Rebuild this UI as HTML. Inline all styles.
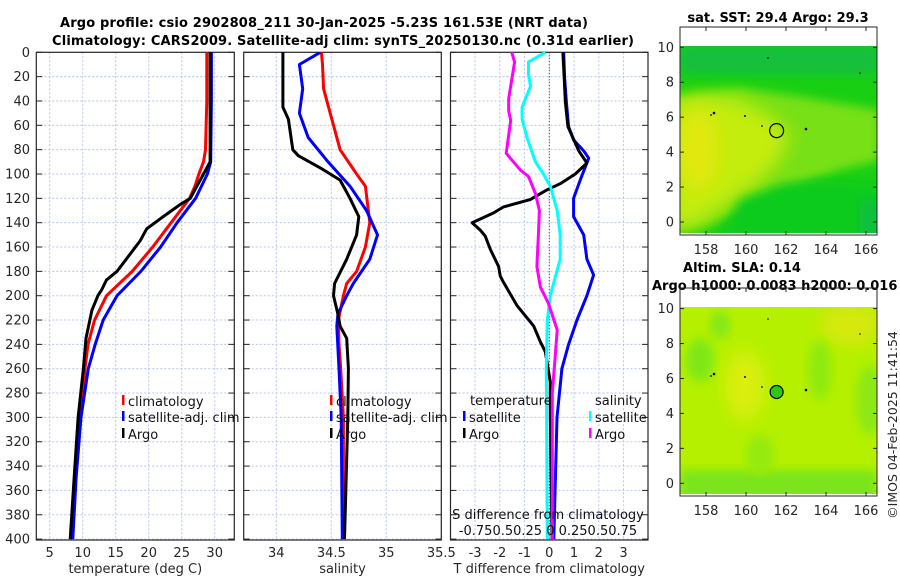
<!DOCTYPE html>
<html><head><meta charset="utf-8"><style>
html,body{margin:0;padding:0;background:#fff;}
svg{display:block;font-family:"DejaVu Sans","Liberation Sans",sans-serif;}
</style></head><body>
<svg id="fig" width="900" height="580" viewBox="0 0 900 580" xmlns="http://www.w3.org/2000/svg">
<defs>
<filter id="blur8" x="-20%" y="-20%" width="140%" height="140%"><feGaussianBlur stdDeviation="9"/></filter>
<filter id="blur4" x="-20%" y="-20%" width="140%" height="140%"><feGaussianBlur stdDeviation="5"/></filter>
<clipPath id="clipMap1"><rect x="680" y="46" width="197" height="187"/></clipPath>
<clipPath id="clipMap2"><rect x="680" y="307" width="197" height="187"/></clipPath>
<clipPath id="clipP1"><rect x="36" y="52" width="198" height="488"/></clipPath>
<clipPath id="clipP2"><rect x="243" y="52" width="198" height="488"/></clipPath>
<clipPath id="clipP3"><rect x="450" y="52" width="198" height="488"/></clipPath>
</defs>
<text x="324" y="27" text-anchor="middle" font-weight="bold" font-size="13" textLength="528">Argo profile: csio 2902808_211 30-Jan-2025 -5.23S 161.53E (NRT data)</text>
<text x="343" y="45" text-anchor="middle" font-weight="bold" font-size="13" textLength="582">Climatology: CARS2009. Satellite-adj clim: synTS_20250130.nc (0.31d earlier)</text>

<!-- maps -->
<g>
<text x="778" y="22" text-anchor="middle" font-weight="bold" font-size="13">sat. SST: 29.4 Argo: 29.3</text>
<g clip-path="url(#clipMap1)">
<rect x="680" y="46" width="197" height="187" fill="#18cf14"/>
<rect x="680" y="46" width="197" height="28" fill="#14bf3c" filter="url(#blur4)"/>
<path d="M670,98 L700,92 L740,88 L790,95 L850,105 L880,110 L880,160 L840,170 L800,185 L760,200 L730,215 L700,230 L670,235 Z" fill="#78e014" filter="url(#blur4)"/>
<path d="M670,100 L700,96 L735,98 L770,115 L790,135 L780,160 L755,185 L725,205 L700,222 L670,230 Z" fill="#c4ec08" filter="url(#blur8)"/>
<ellipse cx="698" cy="150" rx="20" ry="40" fill="#e2e810" filter="url(#blur8)"/>
<path d="M740,200 L780,185 L820,180 L880,185 L880,240 L720,240 Z" fill="#0ccb1c" filter="url(#blur4)"/>
<rect x="860" y="200" width="20" height="40" fill="#10bf40" filter="url(#blur4)"/>
</g>
<rect x="680" y="27" width="197" height="208" fill="none" stroke="#262626" stroke-width="1"/>
<circle cx="776.6" cy="130.6" r="7" fill="none" stroke="#000" stroke-width="1.2"/>
<g fill="#000"><circle cx="714" cy="113" r="1.3"/><circle cx="711" cy="115" r="0.9"/><circle cx="745" cy="116" r="1"/><circle cx="762" cy="126" r="0.9"/><circle cx="806" cy="129" r="1.3"/><circle cx="768" cy="58" r="0.8"/><circle cx="860" cy="73" r="0.8"/></g>
<g id="map1ticks"></g>
</g>

<g>
<text x="742" y="272" text-anchor="middle" font-weight="bold" font-size="13">Altim. SLA: 0.14</text>
<text x="652" y="290" font-weight="bold" font-size="13">Argo h1000: 0.0083 h2000: 0.016</text>
<g clip-path="url(#clipMap2)">
<rect x="680" y="307" width="197" height="187" fill="#b4f000"/>
<ellipse cx="700" cy="360" rx="14" ry="22" fill="#7ee818" filter="url(#blur4)"/>
<ellipse cx="720" cy="325" rx="10" ry="14" fill="#84e814" filter="url(#blur4)"/>
<ellipse cx="745" cy="385" rx="20" ry="35" fill="#dcee08" filter="url(#blur8)"/>
<ellipse cx="850" cy="325" rx="30" ry="20" fill="#d8e80a" filter="url(#blur8)"/>
<ellipse cx="820" cy="370" rx="12" ry="30" fill="#90ea10" filter="url(#blur4)"/>
<ellipse cx="870" cy="400" rx="14" ry="35" fill="#8ce812" filter="url(#blur4)"/>
<rect x="680" y="470" width="197" height="30" fill="#7ae41a" filter="url(#blur4)"/>
<ellipse cx="760" cy="455" rx="14" ry="20" fill="#94ea10" filter="url(#blur4)"/>
</g>
<rect x="680" y="288" width="197" height="208" fill="none" stroke="#262626" stroke-width="1"/>
<circle cx="776.6" cy="392" r="6.5" fill="#2cc814" stroke="#000" stroke-width="1.2"/>
<g fill="#000"><circle cx="714" cy="374" r="1.3"/><circle cx="711" cy="376" r="0.9"/><circle cx="745" cy="377" r="1"/><circle cx="762" cy="387" r="0.9"/><circle cx="806" cy="390" r="1.3"/><circle cx="768" cy="319" r="0.8"/><circle cx="860" cy="334" r="0.8"/></g>
<g id="map2ticks"></g>
</g>
<text transform="translate(897,425) rotate(-90)" text-anchor="middle" font-size="12.5" fill="#262626">©IMOS 04-Feb-2025 11:41:54</text>

<g id="plots"></g>
</svg>
<script>
// ---------- data ----------
var depthTicks = [0,20,40,60,80,100,120,140,160,180,200,220,240,260,280,300,320,340,360,380,400];
var tempTicks = [5,10,15,20,25,30];
var salTicks = [34,34.5,35,35.5];
var tdiffTicks = [-3,-2,-1,0,1,2,3];

var climTDepth = [0,40,80,90,100,110,120,140,160,180,200,220,240,260,300,350,400];
var climT = [28.8,28.8,28.6,28.3,27.6,27.0,26.2,23.4,20.6,17.5,13.6,11.8,10.8,10.35,9.6,8.8,8.2];
var satTDepth = [0,40,90,100,120,140,160,180,200,220,240,260,300,350,400];
var satT = [29.5,29.5,29.4,28.9,27.1,24.3,21.8,18.8,15.2,13.1,11.9,10.85,9.75,9.0,8.5];
var argoTDepth = [0,40,90,100,120,125,135,145,155,180,187,195,200,212,235,260,300,350,400];
var argoT = [29.3,29.3,29.3,28.3,26.3,24.8,22.2,19.7,18.7,15.2,13.6,12.9,12.3,11.4,10.5,10.1,9.3,8.7,8.1];

var climSDepth = [0,10,30,60,80,100,110,140,160,180,190,200,220,240,260,300,400];
var climS = [34.41,34.42,34.43,34.52,34.58,34.73,34.81,34.85,34.81,34.73,34.64,34.61,34.565,34.57,34.585,34.61,34.61];
var satSDepth = [0,10,30,50,70,90,110,130,150,170,190,200,215,225,260,300,400];
var satS = [34.40,34.21,34.24,34.21,34.29,34.47,34.67,34.82,34.92,34.85,34.70,34.64,34.56,34.55,34.57,34.59,34.60];
var argoSDepth = [0,45,55,80,85,95,105,120,135,150,170,190,200,215,225,235,260,300,400];
var argoS = [34.06,34.06,34.11,34.15,34.20,34.40,34.58,34.67,34.75,34.73,34.64,34.53,34.52,34.56,34.58,34.64,34.655,34.65,34.62];

var dSatTDepth = [0,21,41,61,72,81,87,105,120,135,150,170,183,200,220,240,260,300,400];
var dSatT = [0.58,0.62,0.69,0.78,0.98,1.39,1.59,1.25,0.98,0.98,1.39,1.52,1.79,1.52,1.12,0.78,0.51,0.31,0.18];
var dArgoTDepth = [0,41,61,81,91,100,108,113,121,127,132,140,146,151,162,176,184,189,208,225,238,246,255,271,298,400];
var dArgoT = [0.55,0.65,0.75,1.19,1.52,1.05,0.44,-0.09,-0.77,-1.85,-2.25,-3.12,-2.79,-2.59,-2.38,-2.05,-1.98,-1.85,-1.31,-0.63,-0.36,-0.16,-0.09,0.04,0.04,0.11];
var dSatSDepth = [0,8,18,28,45,55,70,90,100,110,130,150,170,185,200,220,260,400];
var dSatS = [-0.04,-0.21,-0.21,-0.19,-0.275,-0.275,-0.225,-0.14,-0.06,0.01,0.08,0.11,0.11,0.06,0.01,-0.02,-0.03,-0.02];
var dArgoSDepth = [0,8,38,48,56,83,97,102,116,130,150,176,193,206,228,250,280,400];
var dArgoS = [-0.38,-0.35,-0.41,-0.41,-0.39,-0.435,-0.29,-0.21,-0.14,-0.1,-0.11,-0.125,-0.09,-0.01,0.08,0.06,0.03,0.03];

var lonTicks = [158,160,162,164,166];
var latTicks = [0,2,4,6,8,10];

// ---------- helpers ----------
var NS = "http://www.w3.org/2000/svg";
var root = document.getElementById('plots');
function mk(tag, attrs, parent, txt){
  var e = document.createElementNS(NS, tag);
  for (var k in attrs) e.setAttribute(k, attrs[k]);
  if (txt !== undefined) e.textContent = txt;
  (parent || root).appendChild(e);
  return e;
}
var Y0 = 52.3, YS = 1.217;
function yDepth(d){ return Y0 + d*YS; }
function xTemp(t){ return 49.7 + (t-5)*6.6; }
function xSal(s){ return 276.3 + (s-34)*110; }
function xTd(t){ return 549.3 + t*24.75; }
function xSd(s){ return 549.3 + s*4*24.75; }

function panel(name, x0, w, xTicks, xf, xlabels, xtitle){
  var g = mk('g', {});
  
  
  depthTicks.forEach(function(d){
    var y = yDepth(d);
    mk('line', {x1:x0, x2:x0+w, y1:y, y2:y, stroke:'#b8c4ec', 'stroke-width':1, 'stroke-dasharray':'2,2'}, g);
    mk('line', {x1:x0, x2:x0+6, y1:y, y2:y, stroke:'#262626', 'stroke-width':1}, g);
    mk('line', {x1:x0+w-6, x2:x0+w, y1:y, y2:y, stroke:'#262626', 'stroke-width':1}, g);
  });
  xTicks.forEach(function(t, i){
    var x = xf(t);
    mk('line', {x1:x, x2:x, y1:Y0, y2:540, stroke:'#b8c4ec', 'stroke-width':1, 'stroke-dasharray':'2,2'}, g);
    if (xlabels) {
      var tl = mk('text', {x:x, y:557, 'text-anchor':'middle', 'font-size':13, fill:'#262626'}, g, xlabels[i]);
      
      
    }
  });
  mk('rect', {x:x0, y:Y0, width:w, height:540-Y0, fill:'none', stroke:'#262626', 'stroke-width':1.2}, g);
  var xt = mk('text', {x:x0+w/2, y:573, 'text-anchor':'middle', 'font-size':13, fill:'#262626'}, g, xtitle);
  
  
  return g;
}
function line(name, depths, vals, xf, color, clip, width){
  var pts = depths.map(function(d,i){ return xf(vals[i]).toFixed(1)+','+yDepth(d).toFixed(1); }).join(' ');
  var p = mk('polyline', {points:pts, fill:'none', stroke:color, 'stroke-width':width||3, 'stroke-linejoin':'round', 'clip-path':'url(#'+clip+')'});
  
  
}
function legendEntry(name, x, y, color, label){
  var g = mk('g', {});
  
  
  mk('rect', {x:x, y:y-11, width:2.5, height:10, fill:color}, g);
  mk('text', {x:x+6, y:y, 'font-size':13, fill:'#111'}, g, label);
}

// y tick labels panel 1
depthTicks.forEach(function(d){
  var t = mk('text', {x:30, y:yDepth(d)+4.5, 'text-anchor':'end', 'font-size':13, fill:'#262626'}, root, String(d));
  
  
});

// panels
panel('temperature-panel', 36.3, 198, tempTicks, xTemp, tempTicks.map(String), 'temperature (deg C)');
panel('salinity-panel', 243.7, 197.6, salTicks, xSal, salTicks.map(String), 'salinity');
panel('difference-panel', 450.5, 197.5, tdiffTicks, xTd, tdiffTicks.map(String), 'T difference from climatology');
mk('line', {x1:xTd(0), x2:xTd(0), y1:Y0, y2:540, stroke:'#333', 'stroke-width':1, 'stroke-dasharray':'1,2'});

line('temp-climatology-line', climTDepth, climT, xTemp, '#ff0000', 'clipP1');
line('temp-satellite-line', satTDepth, satT, xTemp, '#0000ff', 'clipP1');
line('temp-argo-line', argoTDepth, argoT, xTemp, '#000000', 'clipP1');
line('sal-climatology-line', climSDepth, climS, xSal, '#ff0000', 'clipP2');
line('sal-satellite-line', satSDepth, satS, xSal, '#0000ff', 'clipP2');
line('sal-argo-line', argoSDepth, argoS, xSal, '#000000', 'clipP2');
line('tdiff-satellite-line', dSatTDepth, dSatT, xTd, '#0000ff', 'clipP3');
line('tdiff-argo-line', dArgoTDepth, dArgoT, xTd, '#000000', 'clipP3');
line('sdiff-satellite-line', dSatSDepth, dSatS, xSd, '#00ffff', 'clipP3');
line('sdiff-argo-line', dArgoSDepth, dArgoS, xSd, '#ff00ff', 'clipP3');

// legends
legendEntry('legend-climatology', 122, 406, '#ff0000', 'climatology');
legendEntry('legend-satellite-adj', 122, 422, '#0000ff', 'satellite-adj. clim');
legendEntry('legend-argo', 122, 439, '#000000', 'Argo');
legendEntry('legend2-climatology', 330, 406, '#ff0000', 'climatology');
legendEntry('legend2-satellite-adj', 330, 422, '#0000ff', 'satellite-adj. clim');
legendEntry('legend2-argo', 330, 439, '#000000', 'Argo');
var lt = mk('text', {x:470, y:405, 'font-size':13, fill:'#111'}, root, 'temperature');


var ls = mk('text', {x:595, y:405, 'font-size':13, fill:'#111'}, root, 'salinity');


legendEntry('legend-tdiff-satellite', 463, 422, '#0000ff', 'satellite');
legendEntry('legend-tdiff-argo', 463, 439, '#000000', 'Argo');
legendEntry('legend-sdiff-satellite', 589, 422, '#00ffff', 'satellite');
legendEntry('legend-sdiff-argo', 589, 439, '#ff00ff', 'Argo');
var st = mk('text', {x:548, y:519, 'text-anchor':'middle', 'font-size':13, fill:'#111'}, root, 'S difference from climatology');


var sl = mk('text', {x:548, y:535, 'text-anchor':'middle', 'font-size':13, fill:'#111'}, root, '-0.750.50.25 0 0.250.50.75');



// map ticks
function mapTicks(gid, top, bottom, lat0y, labelY){
  var g = document.getElementById(gid);
  latTicks.forEach(function(v){
    var y = lat0y - v*17.47;
    mk('line', {x1:680, x2:684, y1:y, y2:y, stroke:'#262626'}, g);
    mk('line', {x1:873, x2:877, y1:y, y2:y, stroke:'#262626'}, g);
    var t = mk('text', {x:674, y:y+4.5, 'text-anchor':'end', 'font-size':13, fill:'#262626'}, g, String(v));
    
    
  });
  lonTicks.forEach(function(v){
    var x = 706 + (v-158)*20;
    mk('line', {x1:x, x2:x, y1:bottom-4, y2:bottom, stroke:'#262626'}, g);
    mk('line', {x1:x, x2:x, y1:top, y2:top+4, stroke:'#262626'}, g);
    var t = mk('text', {x:x, y:labelY, 'text-anchor':'middle', 'font-size':13, fill:'#262626'}, g, String(v));
    
    
  });
}
mapTicks('map1ticks', 27, 235, 222, 254);
mapTicks('map2ticks', 288, 496, 483.3, 515);
</script>
</body></html>
